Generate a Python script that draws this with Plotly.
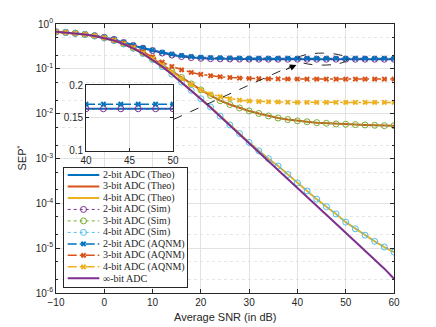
import plotly.graph_objects as go

# Datos (SNR en dB, SEP)
snr_db = [-10, -8, -6, -4, -2, 0, 2, 4, 6, 8, 10, 12, 14, 16, 18, 20, 22, 24,
          26, 28, 30, 32, 34, 36, 38, 40, 42, 44, 46, 48, 50, 52, 54, 56, 58, 60]

theo_2bit = [0.670, 0.649, 0.622, 0.589, 0.550, 0.505, 0.452, 0.385, 0.330, 0.288,
             0.255, 0.225, 0.203, 0.188, 0.178, 0.172, 0.169, 0.167, 0.166, 0.165,
             0.1645, 0.164, 0.164, 0.164, 0.164, 0.164, 0.164, 0.164, 0.164, 0.164,
             0.164, 0.164, 0.164, 0.164, 0.164, 0.164]
theo_3bit = [0.670, 0.648, 0.620, 0.585, 0.543, 0.490, 0.430, 0.362, 0.293, 0.228,
             0.170, 0.123, 0.089, 0.064, 0.046, 0.034, 0.0255, 0.0195, 0.0160, 0.0134,
             0.0115, 0.0101, 0.0089, 0.0080, 0.0074, 0.0069, 0.0066, 0.0063, 0.0061, 0.0059,
             0.0058, 0.0057, 0.0056, 0.0055, 0.0054, 0.0054]
theo_4bit = [0.670, 0.648, 0.620, 0.585, 0.542, 0.489, 0.427, 0.358, 0.287, 0.219,
             0.160, 0.112, 0.076, 0.0506, 0.0332, 0.0215, 0.0141, 0.0088, 0.0056, 0.0036,
             0.00228, 0.00148, 0.00099, 0.00068, 0.00044, 0.000285, 0.000188, 0.000124, 8.4e-5, 5.8e-5,
             3.8e-5, 2.7e-5, 1.95e-5, 1.42e-5, 1.06e-5, 8.2e-6]

# Simulaciones (caen sobre las curvas teoricas)
sim_2bit = list(theo_2bit)
sim_3bit = list(theo_3bit)
sim_4bit = list(theo_4bit)

aqnm_2bit = [0.670, 0.649, 0.623, 0.590, 0.552, 0.508, 0.458, 0.395, 0.338, 0.296,
             0.262, 0.234, 0.213, 0.198, 0.188, 0.181, 0.177, 0.175, 0.173, 0.172,
             0.1715, 0.171, 0.171, 0.171, 0.171, 0.171, 0.171, 0.171, 0.171, 0.171,
             0.171, 0.171, 0.171, 0.171, 0.171, 0.171]
aqnm_3bit = [0.670, 0.649, 0.622, 0.588, 0.548, 0.497, 0.440, 0.375, 0.305, 0.240,
             0.185, 0.141, 0.113, 0.095, 0.083, 0.075, 0.070, 0.0665, 0.064, 0.062,
             0.061, 0.0603, 0.0598, 0.0595, 0.0593, 0.0592, 0.0591, 0.059, 0.059, 0.059,
             0.059, 0.059, 0.059, 0.059, 0.059, 0.059]
aqnm_4bit = [0.670, 0.648, 0.621, 0.586, 0.544, 0.492, 0.431, 0.363, 0.293, 0.226,
             0.168, 0.121, 0.085, 0.060, 0.044, 0.034, 0.0275, 0.0240, 0.0215, 0.0200,
             0.0192, 0.0187, 0.0184, 0.0182, 0.0180, 0.0179, 0.0179, 0.0178, 0.0178, 0.0178,
             0.0178, 0.0178, 0.0178, 0.0178, 0.0178, 0.0178]

inf_bit = [0.670, 0.648, 0.620, 0.585, 0.542, 0.489, 0.427, 0.358, 0.287, 0.219,
           0.160, 0.112, 0.076, 0.0504, 0.0329, 0.0212, 0.0137, 0.00868, 0.00552, 0.00348,
           0.00220, 0.00139, 0.000876, 0.000553, 0.000349, 0.000220, 0.000139, 8.76e-5, 5.53e-5, 3.49e-5,
           2.20e-5, 1.39e-5, 8.76e-6, 5.53e-6, 3.49e-6, 2.08e-6]

x_ticks = [-10, 0, 10, 20, 30, 40, 50, 60]
y_ticks = [1e-6, 1e-5, 1e-4, 1e-3, 1e-2, 1e-1, 1]
y_ticktext = ["10<sup>-6</sup>", "10<sup>-5</sup>", "10<sup>-4</sup>", "10<sup>-3</sup>",
              "10<sup>-2</sup>", "10<sup>-1</sup>", "10<sup>0</sup>"]

etiquetas = ["2-bit ADC (Theo)", "3-bit ADC (Theo)", "4-bit ADC (Theo)",
             "2-bit ADC (Sim)", "3-bit ADC (Sim)", "4-bit ADC (Sim)",
             "2-bit ADC (AQNM)", "3-bit ADC (AQNM)", "4-bit ADC (AQNM)",
             "\u221e-bit ADC"]

# colores tipo MATLAB
AZUL = "#0072BD"
NARANJA = "#D95319"
AMARILLO = "#EDB120"
MORADO = "#7E2F8E"
VERDE = "#77AC30"
CIAN = "#4DBEEE"
GRIS = "#262626"

# (datos, color, tipo)
series = [
    (theo_2bit, AZUL, "theo"),
    (theo_3bit, NARANJA, "theo"),
    (theo_4bit, AMARILLO, "theo"),
    (sim_2bit, MORADO, "sim"),
    (sim_3bit, VERDE, "sim"),
    (sim_4bit, CIAN, "sim"),
    (aqnm_2bit, AZUL, "aqnm"),
    (aqnm_3bit, NARANJA, "aqnm"),
    (aqnm_4bit, AMARILLO, "aqnm"),
    (inf_bit, MORADO, "inf"),
]


def estilo(color, tipo):
    if tipo == "theo" or tipo == "inf":
        return dict(mode="lines", line=dict(color=color, width=2))
    if tipo == "sim":
        return dict(mode="lines+markers", line=dict(color=color, width=1, dash="dot"),
                    marker=dict(symbol="circle-open", size=6, color=color, line=dict(width=1)))
    return dict(mode="lines+markers", line=dict(color=color, width=1.5, dash="dashdot"),
                marker=dict(symbol="x", size=5, color=color))


fig = go.Figure()

# Curvas principales
for datos, color, tipo in series:
    fig.add_trace(go.Scatter(x=snr_db, y=datos, showlegend=False, xaxis="x", yaxis="y",
                             **estilo(color, tipo)))

# Zoom (inset) 40-50 dB para 2 bits
idx = [i for i, s in enumerate(snr_db) if 40 <= s <= 50]
for datos, color, tipo in [series[0], series[3], series[6]]:
    fig.add_trace(go.Scatter(x=[snr_db[i] for i in idx], y=[datos[i] for i in idx],
                             showlegend=False, xaxis="x2", yaxis="y2", **estilo(color, tipo)))

# Leyenda dibujada a mano (ejes x3/y3 en pixeles)
paso = 11.48
for k, (datos, color, tipo) in enumerate(series):
    yk = 7 + paso * k
    st = estilo(color, tipo)
    fig.add_trace(go.Scatter(x=[3.7, 35.3], y=[yk, yk], mode="lines", line=st["line"],
                             showlegend=False, xaxis="x3", yaxis="y3", hoverinfo="skip"))
    if "marker" in st:
        fig.add_trace(go.Scatter(x=[19.5], y=[yk], mode="markers", marker=st["marker"],
                                 showlegend=False, xaxis="x3", yaxis="y3", hoverinfo="skip"))
    fig.add_annotation(x=37, y=yk, xref="x3", yref="y3", text=etiquetas[k], showarrow=False,
                       xanchor="left", yanchor="middle",
                       font=dict(family="Liberation Serif", size=10, color=GRIS))

ejes = dict(showline=True, linecolor=GRIS, linewidth=0.8, mirror="ticks", ticks="inside",
            tickcolor=GRIS, zeroline=False, tickfont=dict(family="Liberation Sans", size=10, color=GRIS))

fig.update_layout(
    width=436, height=327,
    margin=dict(l=56, r=42, t=24, b=34),
    plot_bgcolor="white", paper_bgcolor="white",
    font=dict(family="Liberation Sans", size=10, color=GRIS),
    xaxis=dict(domain=[0, 1], range=[-10, 60], tickvals=x_ticks, ticklen=4,
               showgrid=True, gridcolor="#e2e2e2", gridwidth=1, **ejes),
    yaxis=dict(domain=[0, 1], type="log", range=[-6, 0], tickvals=y_ticks, ticktext=y_ticktext,
               ticklen=4, showgrid=True, gridcolor="#e2e2e2", gridwidth=1,
               minor=dict(ticks="inside", ticklen=2, tickcolor=GRIS, showgrid=True,
                          griddash="dot", gridcolor="#e6e6e6"),
               **ejes),
    xaxis2=dict(domain=[0.0888, 0.3462], anchor="y2", range=[40, 50], tickvals=[40, 45, 50],
                ticklen=3, showgrid=True, gridcolor="#e2e2e2", **ejes),
    yaxis2=dict(domain=[0.5279, 0.7732], anchor="x2", range=[0.1, 0.2], tickvals=[0.1, 0.15, 0.2],
                ticklen=3, showgrid=True, gridcolor="#e2e2e2", **ejes),
    xaxis3=dict(domain=[0.0237, 0.3876], anchor="y3", range=[0, 123], showline=True, mirror=True,
                linecolor=GRIS, linewidth=0.8, showgrid=False, zeroline=False,
                showticklabels=False, ticks=""),
    yaxis3=dict(domain=[0.0223, 0.4647], anchor="x3", range=[119, 0], showline=True, mirror=True,
                linecolor=GRIS, linewidth=0.8, showgrid=False, zeroline=False,
                showticklabels=False, ticks=""),
)

# Elipse punteada y flecha hacia el inset
fig.add_shape(type="circle", xref="x", yref="y", x0=40, x1=50.3, y0=0.121, y1=0.224,
              line=dict(color=GRIS, width=1, dash="dash"))
fig.add_shape(type="line", xref="x", yref="y", x0=14.4, y0=0.0075, x1=38.5, y1=0.113,
              line=dict(color=GRIS, width=1, dash="dash"))
fig.add_annotation(x=39.8, y=-0.917, xref="x", yref="y", ax=-12, ay=5, text="",
                   showarrow=True, arrowhead=2, arrowsize=1.3, arrowwidth=1, arrowcolor="black")

# Titulos de ejes (posiciones en pixeles convertidas a paper)
fig.add_annotation(x=0.5, y=-24 / 269, xref="paper", yref="paper", text="Average SNR (in dB)",
                   showarrow=False, yanchor="middle", font=dict(size=11))
fig.add_annotation(x=-35 / 338, y=0.5, xref="paper", yref="paper", text="SEP<sup>*</sup>",
                   textangle=-90, showarrow=False, xanchor="center", font=dict(size=11))

# sin margen del body para que el grafico quede en (0,0), sin barra de herramientas
fig.write_html("out.html", config={"displayModeBar": False},
               post_script="document.body.style.margin='0';")
